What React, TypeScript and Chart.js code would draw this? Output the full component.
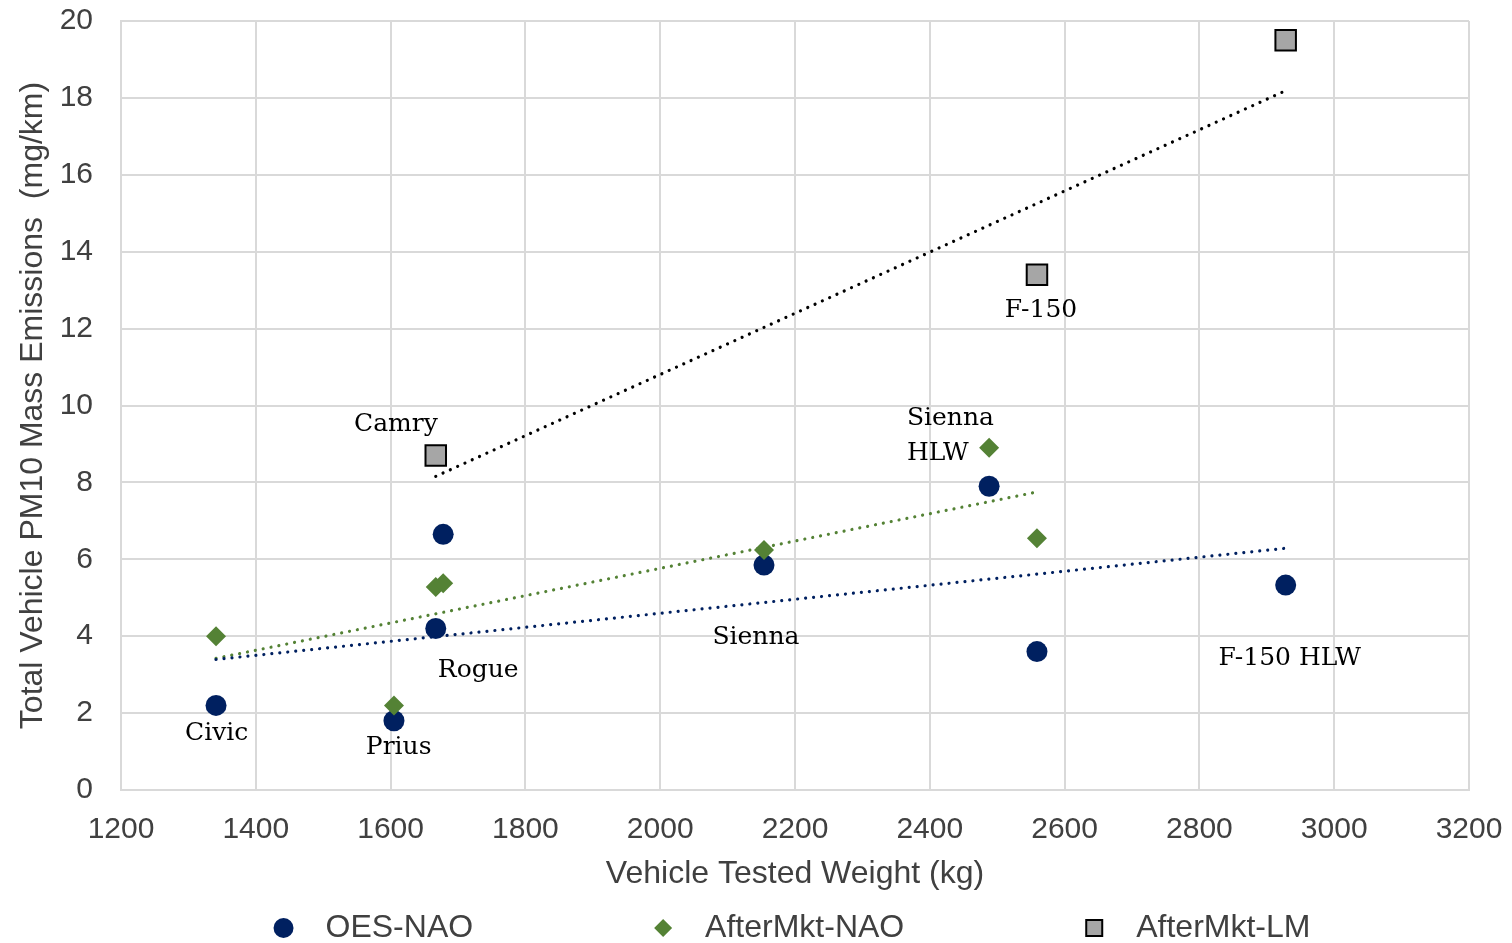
import { useEffect, useRef } from 'react';
import { Chart, registerables } from 'chart.js';

Chart.register(...registerables);

// vehicle tested weight (kg) and total PM10 mass emissions (mg/km)
const OES_WEIGHT = [1341, 1605, 1667, 1678, 2154, 2488, 2559, 2928];
const OES_PM10 = [2.2, 1.8, 4.2, 6.65, 5.85, 7.9, 3.6, 5.33];
const NAO_WEIGHT = [1341, 1605, 1667, 1678, 2154, 2488, 2559];
const NAO_PM10 = [4.0, 2.2, 5.28, 5.38, 6.24, 8.9, 6.55];
const LM_WEIGHT = [1667, 2559, 2928];
const LM_PM10 = [8.7, 13.4, 19.5];

const SERIES_NAMES = ['OES-NAO', 'AfterMkt-NAO', 'AfterMkt-LM'];

// vehicle name annotations, anchored in data units
const LABEL_TEXT = ['Civic', 'Prius', 'Rogue', 'Camry', 'Sienna', 'Sienna', 'HLW', 'F-150', 'F-150 HLW'];
const LABEL_WEIGHT = [1342, 1612, 1730, 1608, 2142, 2366, 2366, 2565, 2934];
const LABEL_PM10 = [1.47, 1.1, 3.1, 9.5, 3.96, 9.66, 8.76, 12.48, 3.43];
const LABEL_ALIGN = ['center', 'center', 'center', 'center', 'center', 'left', 'left', 'center', 'center'];

const NAVY = '#002060';
const GREEN = '#548235';
const GREY = '#a6a6a6';
const TEXT = '#404040';
const SANS = '"Liberation Sans", Arial, sans-serif';

function points(xs: number[], ys: number[]) {
  return xs.map((x, i) => ({ x, y: ys[i] }));
}

// least squares trendline drawn between the smallest and largest weight
function trend(xs: number[], ys: number[]) {
  const n = xs.length;
  const mx = xs.reduce((a, b) => a + b, 0) / n;
  const my = ys.reduce((a, b) => a + b, 0) / n;
  let sxy = 0;
  let sxx = 0;
  xs.forEach((x, i) => {
    sxy += (x - mx) * (ys[i] - my);
    sxx += (x - mx) * (x - mx);
  });
  const slope = sxy / sxx;
  const lo = Math.min(...xs);
  const hi = Math.max(...xs);
  return [
    { x: lo, y: my + slope * (lo - mx) },
    { x: hi, y: my + slope * (hi - mx) },
  ];
}

const labelPlugin = {
  id: 'vehicleLabels',
  afterDatasetsDraw(chart: Chart) {
    const { ctx, scales } = chart;
    ctx.save();
    ctx.font = '25px "DejaVu Serif", serif';
    ctx.fillStyle = '#000';
    ctx.textBaseline = 'middle';
    LABEL_TEXT.forEach((t, i) => {
      ctx.textAlign = LABEL_ALIGN[i] as CanvasTextAlign;
      ctx.fillText(t, scales.x.getPixelForValue(LABEL_WEIGHT[i]), scales.y.getPixelForValue(LABEL_PM10[i]));
    });
    ctx.restore();
  },
};

const legendPlugin = {
  id: 'bottomLegend',
  afterDraw(chart: Chart) {
    const { ctx, chartArea } = chart;
    ctx.save();
    ctx.font = '32px ' + SANS;
    ctx.textBaseline = 'middle';
    ctx.textAlign = 'left';
    const widths = SERIES_NAMES.map((s) => ctx.measureText(s).width);
    const span = 10 + widths.reduce((a, w) => a + 42 + w, 0) + 192 * (widths.length - 1);
    let cx = (chartArea.left + chartArea.right) / 2 - span / 2 + 9;
    const cy = 928;
    SERIES_NAMES.forEach((name, i) => {
      ctx.beginPath();
      if (i === 0) {
        ctx.fillStyle = NAVY;
        ctx.arc(cx, cy, 10, 0, Math.PI * 2);
        ctx.fill();
      } else if (i === 1) {
        ctx.fillStyle = GREEN;
        ctx.moveTo(cx - 9, cy);
        ctx.lineTo(cx, cy - 9);
        ctx.lineTo(cx + 9, cy);
        ctx.lineTo(cx, cy + 9);
        ctx.closePath();
        ctx.fill();
      } else {
        ctx.fillStyle = GREY;
        ctx.strokeStyle = '#000';
        ctx.lineWidth = 2;
        ctx.rect(cx - 8, cy - 8, 16, 16);
        ctx.fill();
        ctx.stroke();
      }
      ctx.fillStyle = TEXT;
      ctx.fillText(name, cx + 42, cy);
      cx += 42 + widths[i] + 190;
    });
    ctx.restore();
  },
};

export default function App() {
  const canvasRef = useRef<HTMLCanvasElement>(null);
  const chartRef = useRef<Chart | null>(null);

  useEffect(() => {
    if (!canvasRef.current) return;
    if (chartRef.current) chartRef.current.destroy();

    const trendStyle = {
      showLine: true,
      pointRadius: 0,
      borderWidth: 3.2,
      borderDash: [0.01, 8],
      borderCapStyle: 'round' as const,
      order: 4,
    };

    chartRef.current = new Chart(canvasRef.current, {
      type: 'scatter',
      data: {
        datasets: [
          {
            label: SERIES_NAMES[0],
            data: points(OES_WEIGHT, OES_PM10),
            pointStyle: 'circle',
            pointRadius: 10.5,
            backgroundColor: NAVY,
            borderColor: NAVY,
            borderWidth: 0,
            order: 3,
          },
          {
            label: SERIES_NAMES[1],
            data: points(NAO_WEIGHT, NAO_PM10),
            pointStyle: 'rectRot',
            pointRadius: 10,
            backgroundColor: GREEN,
            borderColor: GREEN,
            borderWidth: 0,
            order: 2,
          },
          {
            label: SERIES_NAMES[2],
            data: points(LM_WEIGHT, LM_PM10),
            pointStyle: 'rect',
            pointRadius: 14.5,
            backgroundColor: GREY,
            borderColor: '#000',
            borderWidth: 2,
            order: 1,
          },
          { label: 'trend OES', data: trend(OES_WEIGHT, OES_PM10), borderColor: NAVY, ...trendStyle },
          { label: 'trend NAO', data: trend(NAO_WEIGHT, NAO_PM10), borderColor: GREEN, ...trendStyle },
          { label: 'trend LM', data: trend(LM_WEIGHT, LM_PM10), borderColor: '#000', ...trendStyle },
        ],
      },
      options: {
        responsive: false,
        animation: false,
        layout: { padding: { top: 21, right: 43, left: 0, bottom: 45 } },
        plugins: {
          legend: { display: false },
          tooltip: { enabled: false },
        },
        scales: {
          x: {
            type: 'linear',
            min: 1200,
            max: 3200,
            ticks: {
              stepSize: 200,
              padding: 0,
              color: TEXT,
              font: { family: SANS, size: 30 },
              callback: (v) => String(v),
            },
            grid: { color: '#d9d9d9', lineWidth: 2, drawTicks: true, tickLength: 22, tickColor: 'rgba(0,0,0,0)' },
            border: { color: '#d9d9d9', width: 2 },
            title: {
              display: true,
              text: 'Vehicle Tested Weight (kg)',
              color: TEXT,
              font: { family: SANS, size: 32, lineHeight: 1.2 },
              padding: { top: 4, bottom: 5 },
            },
            afterFit: (scale) => {
              scale.height = 108;
            },
          },
          y: {
            type: 'linear',
            min: 0,
            max: 20,
            ticks: {
              stepSize: 2,
              padding: 0,
              color: TEXT,
              font: { family: SANS, size: 30 },
              callback: (v) => String(v),
            },
            grid: { color: '#d9d9d9', lineWidth: 2, drawTicks: true, tickLength: 28, tickColor: 'rgba(0,0,0,0)' },
            border: { color: '#d9d9d9', width: 2 },
            title: {
              display: true,
              text: 'Total Vehicle PM10 Mass Emissions  (mg/km)',
              color: TEXT,
              font: { family: SANS, size: 32, lineHeight: 1.2 },
              padding: { top: 14, bottom: 0 },
            },
            afterFit: (scale) => {
              scale.width = 121;
            },
          },
        },
      },
      plugins: [labelPlugin, legendPlugin],
    });

    return () => chartRef.current?.destroy();
  }, []);

  return (
    <div style={{ position: 'fixed', left: 0, top: 0, width: 1512, height: 943, background: '#fff' }}>
      <canvas ref={canvasRef} width={1512} height={943} style={{ width: 1512, height: 943 }} />
    </div>
  );
}
